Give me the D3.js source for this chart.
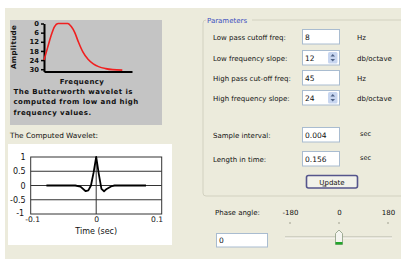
<!DOCTYPE html>
<html>
<head>
<meta charset="utf-8">
<script src="https://cdn.jsdelivr.net/npm/d3@7"></script>
<style>
body { margin: 0; background: #fff; }
svg text { font-family: "DejaVu Sans", Verdana, sans-serif; }
</style>
</head>
<body>
<svg id="chart" width="401" height="259"></svg>
<script>
// spectrum (attenuation in dB against frequency, arbitrary units)
const ampTicks = [0, 6, 12, 18, 24, 30];
const specFreq = [0, 4, 8, 12, 16, 22, 27, 31, 35, 39, 44, 50, 56, 62, 70, 78, 89];
const specAtten = [24, 16, 8, 2, 0, 0, 0, 2, 6, 12, 18.5, 23.5, 26.5, 28.3, 29.6, 30.3, 30.6];
const infoLines = ["The Butterworth wavelet is", "computed from low and high", "frequency values."];

// computed wavelet
const waveTime = [-0.076, -0.032, -0.024, -0.016, -0.012, -0.008, -0.004, 0, 0.004, 0.008, 0.012, 0.016, 0.024, 0.028, 0.076];
const waveAmp = [0, 0, -0.04, -0.2, -0.17, 0, 0.45, 1, 0.4, -0.12, -0.2, -0.12, -0.02, 0, 0];
const waveYTicks = [1, 0.5, 0, -0.5, -1];
const waveXTicks = [-0.1, 0, 0.1];
const waveGrid = [0.5, 0, -0.5];

// parameter form
const paramNames = ["Low pass cutoff freq:", "Low frequency slope:", "High pass cut-off freq:", "High frequency slope:", "Sample interval:", "Length in time:"];
const paramValues = ["8", "12", "45", "24", "0.004", "0.156"];
const paramUnits = ["Hz", "db/octave", "Hz", "db/octave", "sec", "sec"];
const paramSpin = [false, true, false, true, false, false];
const phaseTicks = [-180, 0, 180];
const phaseValue = 0;

const rowY = [37, 58, 78, 98, 135, 159];

const beige = "#ecebdc";
const plain = d => String(d);   // keep ascii hyphen minus like the original
const svg = d3.select("#chart");

// window background
svg.append("rect").attr("x", 5).attr("y", 8).attr("width", 396).attr("height", 251).attr("fill", beige);

// ---- frequency response box
svg.append("rect").attr("x", 10).attr("y", 20).attr("width", 152).attr("height", 105).attr("fill", "#c4c4c4");

const fx = d3.scaleLinear().domain([0, 100]).range([44, 132]);
const fy = d3.scaleLinear().domain([0, 31.5]).range([23.5, 71.5]);

const bold = "bold";
svg.append("g")
    .attr("transform", `translate(${fx(0)},0)`)
    .call(d3.axisLeft(fy).tickValues(ampTicks).tickSize(3).tickSizeOuter(0).tickPadding(2))
    .call(g => g.select(".domain").attr("stroke-width", 2))
    .call(g => g.selectAll(".tick line").attr("stroke-width", 1.5))
    .call(g => g.selectAll("text").attr("font-size", 6.8).attr("font-weight", bold)
        .attr("font-family", "DejaVu Sans").attr("fill", "#111"));

svg.append("g")
    .attr("transform", `translate(0,${fy(31.5)})`)
    .call(d3.axisBottom(fx).tickValues([]).tickSizeOuter(0))
    .call(g => g.select(".domain").attr("stroke-width", 2));

svg.append("path")
    .datum(specFreq.map((f, i) => [f, specAtten[i]]))
    .attr("fill", "none")
    .attr("stroke", "#f02020")
    .attr("stroke-width", 1.6)
    .attr("d", d3.line().x(d => fx(d[0])).y(d => fy(d[1])).curve(d3.curveMonotoneX));

svg.append("text")
    .attr("transform", "translate(16,47) rotate(-90)")
    .attr("text-anchor", "middle").attr("font-size", 7).attr("font-weight", bold).attr("fill", "#111")
    .attr("letter-spacing", 0.4)
    .text("Amplitude");

svg.append("text")
    .attr("x", 82).attr("y", 83.5)
    .attr("text-anchor", "middle").attr("font-size", 7).attr("font-weight", bold).attr("fill", "#111")
    .attr("letter-spacing", 0.4)
    .text("Frequency");

svg.append("g").selectAll("text").data(infoLines).join("text")
    .attr("x", 13.5).attr("y", (d, i) => 93.5 + i * 10.6)
    .attr("font-size", 7).attr("font-weight", bold).attr("fill", "#111")
    .attr("letter-spacing", 0.45)
    .text(d => d);

// ---- computed wavelet
svg.append("text")
    .attr("x", 10).attr("y", 137.5).attr("font-size", 7.3).attr("fill", "#111")
    .text("The Computed Wavelet:");

svg.append("rect").attr("x", 8).attr("y", 144).attr("width", 164).attr("height", 101).attr("fill", "#fff");

const wx = d3.scaleLinear().domain([-0.1, 0.1]).range([30.7, 161.7]);
const wy = d3.scaleLinear().domain([-1, 1]).range([214, 157]);

svg.append("g").selectAll("line").data(waveGrid).join("line")
    .attr("x1", wx(-0.1)).attr("x2", wx(0.1))
    .attr("y1", d => wy(d)).attr("y2", d => wy(d))
    .attr("stroke", "#333").attr("stroke-width", 1);

svg.append("line")
    .attr("x1", wx(0)).attr("x2", wx(0)).attr("y1", wy(1)).attr("y2", wy(-1))
    .attr("stroke", "#333").attr("stroke-width", 1);

svg.append("rect")
    .attr("x", wx(-0.1)).attr("y", wy(1))
    .attr("width", wx(0.1) - wx(-0.1)).attr("height", wy(-1) - wy(1))
    .attr("fill", "none").attr("stroke", "#333");

svg.append("path")
    .datum(waveTime.map((t, i) => [t, waveAmp[i]]))
    .attr("fill", "none").attr("stroke", "#000").attr("stroke-width", 1.8)
    .attr("stroke-linejoin", "round")
    .attr("d", d3.line().x(d => wx(d[0])).y(d => wy(d[1])));

svg.append("g")
    .attr("transform", `translate(${wx(-0.1)},0)`)
    .call(d3.axisLeft(wy).tickValues(waveYTicks).tickSize(0).tickPadding(5).tickFormat(plain))
    .call(g => g.select(".domain").remove())
    .call(g => g.selectAll("text").attr("font-size", 8).attr("font-family", "Liberation Sans").attr("fill", "#111"))
    .call(g => g.selectAll("text").filter(d => d === -1).attr("dx", -1.5).attr("dy", "0.2em"));

svg.append("g")
    .attr("transform", `translate(0,${wy(-1)})`)
    .call(d3.axisBottom(wx).tickValues(waveXTicks).tickSize(0).tickPadding(3).tickFormat(plain))
    .call(g => g.select(".domain").remove())
    .call(g => g.selectAll("text").attr("font-size", 7.6).attr("font-family", "Liberation Sans").attr("fill", "#111"))
    .call(g => g.selectAll("text").filter(d => d === -0.1).attr("dx", 1.5))
    .call(g => g.selectAll("text").filter(d => d === 0.1).attr("text-anchor", "end").attr("dx", 1));

svg.append("text")
    .attr("x", wx(0)).attr("y", 233.5).attr("text-anchor", "middle")
    .attr("font-size", 8).attr("font-family", "Liberation Sans").attr("fill", "#111")
    .text("Time (sec)");

// ---- parameters group
svg.append("rect")
    .attr("x", 203).attr("y", 20).attr("width", 210).attr("height", 176).attr("rx", 3)
    .attr("fill", "none").attr("stroke", "#d2d1c0");
svg.append("rect").attr("x", 206).attr("y", 15).attr("width", 46).attr("height", 10).attr("fill", beige);
svg.append("text")
    .attr("x", 207).attr("y", 22.5).attr("font-size", 7).attr("fill", "#3c4fbe")
    .text("Parameters");

const rows = svg.append("g").selectAll("g").data(paramNames).join("g")
    .attr("transform", (d, i) => `translate(0,${rowY[i]})`);

rows.append("text")
    .attr("x", 213).attr("y", 2.5).attr("font-size", 7).attr("fill", "#111")
    .text(d => d);

rows.append("rect")
    .attr("x", 302.5).attr("y", -7.5).attr("width", 37).attr("height", 14.5)
    .attr("fill", "#fff").attr("stroke", "#a9bcd0");

rows.append("text")
    .attr("x", 305).attr("y", 3).attr("font-size", 7.5).attr("fill", "#111")
    .text((d, i) => paramValues[i]);

rows.append("text")
    .attr("x", (d, i) => i < 4 ? 357 : 360).attr("y", (d, i) => i < 4 ? 2.5 : 0.5)
    .attr("font-size", (d, i) => i < 4 ? 7 : 6.5).attr("fill", "#111")
    .text((d, i) => paramUnits[i]);

const spins = rows.filter((d, i) => paramSpin[i]);
spins.append("rect")
    .attr("x", 328).attr("y", -6).attr("width", 9.5).attr("height", 11.5).attr("rx", 1.5)
    .attr("fill", "#c8d6f0");
spins.append("path").attr("d", "M330.5,-1.5 L332.75,-4 L335,-1.5 Z").attr("fill", "#4d6185");
spins.append("path").attr("d", "M330.5,1 L332.75,3.5 L335,1 Z").attr("fill", "#4d6185");

// update button
svg.append("rect")
    .attr("x", 306.5).attr("y", 175.5).attr("width", 51).attr("height", 12.5).attr("rx", 2)
    .attr("fill", "#f2f2ea").attr("stroke", "#55558c").attr("stroke-width", 1.6);
svg.append("text")
    .attr("x", 332).attr("y", 184.5).attr("text-anchor", "middle")
    .attr("font-size", 7).attr("fill", "#111")
    .text("Update");
svg.append("line").attr("x1", 322.5).attr("x2", 326.5).attr("y1", 186).attr("y2", 186).attr("stroke", "#111").attr("stroke-width", 0.7);

// ---- phase angle slider
const px = d3.scaleLinear().domain([-180, 180]).range([290, 388]);

svg.append("text")
    .attr("x", 215).attr("y", 214.5).attr("font-size", 7).attr("fill", "#111")
    .text("Phase angle:");

svg.append("g")
    .attr("transform", "translate(0,218)")
    .call(d3.axisTop(px).tickValues(phaseTicks).tickSize(0).tickPadding(3).tickFormat(plain))
    .call(g => g.select(".domain").remove())
    .call(g => g.selectAll("text").attr("font-size", 7).attr("font-family", "DejaVu Sans").attr("fill", "#111"));

svg.append("g").selectAll("line").data(phaseTicks).join("line")
    .attr("x1", d => px(d)).attr("x2", d => px(d)).attr("y1", 222).attr("y2", 224)
    .attr("stroke", "#a0a090");

svg.append("rect")
    .attr("x", 216.5).attr("y", 233.5).attr("width", 51).attr("height", 13.5)
    .attr("fill", "#fff").attr("stroke", "#a9bcd0");
svg.append("text")
    .attr("x", 219).attr("y", 243).attr("font-size", 7.5).attr("fill", "#111")
    .text(phaseValue);

svg.append("line").attr("x1", 285).attr("x2", 392).attr("y1", 237).attr("y2", 237).attr("stroke", "#b5b5a8").attr("stroke-width", 1);
svg.append("line").attr("x1", 285).attr("x2", 392).attr("y1", 238).attr("y2", 238).attr("stroke", "#fafaf5").attr("stroke-width", 1);

const tx = px(phaseValue);
svg.append("path")
    .attr("d", `M${tx - 3.5},244.5 L${tx - 3.5},233.5 L${tx},230 L${tx + 3.5},233.5 L${tx + 3.5},244.5 Z`)
    .attr("fill", "#f5f5f0").attr("stroke", "#8a9a80").attr("stroke-width", 0.8);
svg.append("rect").attr("x", tx - 3.5).attr("y", 242).attr("width", 7).attr("height", 2.5).attr("fill", "#22a52a");
</script>
</body>
</html>
